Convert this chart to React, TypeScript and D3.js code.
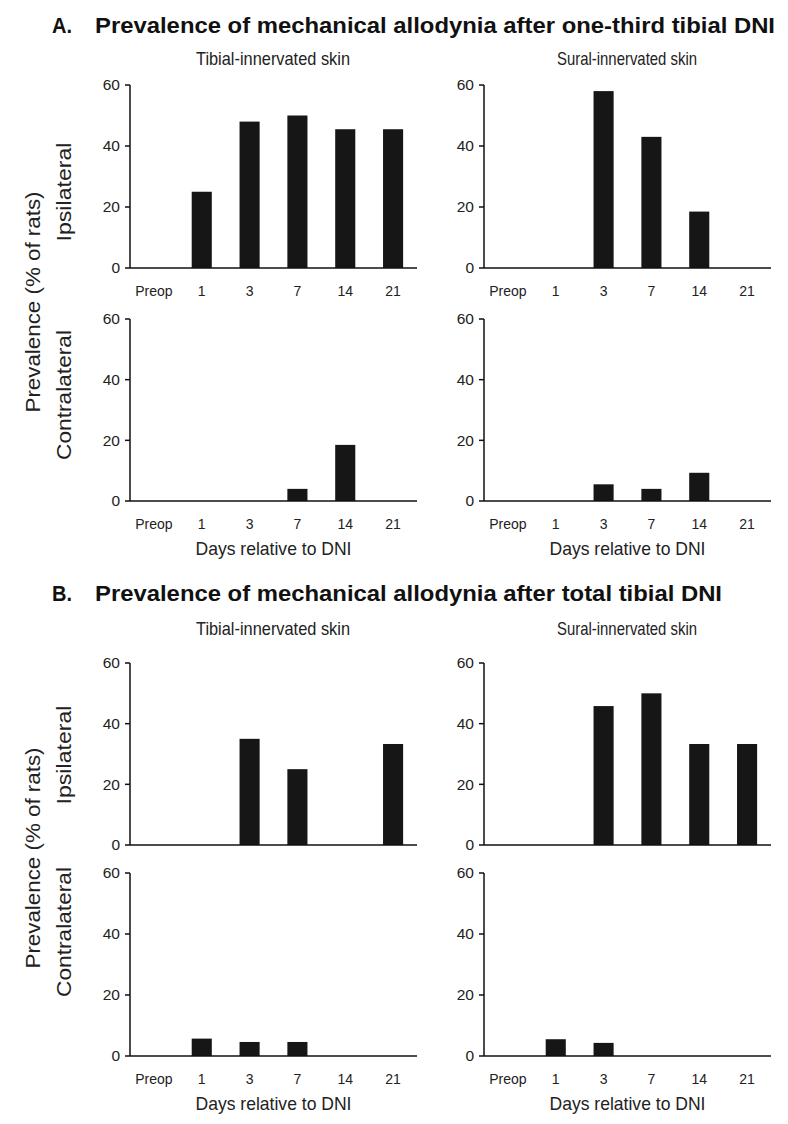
import React from "react";
import * as d3 from "d3";

const categories = ["Preop", "1", "3", "7", "14", "21"];
const yTicks = [0, 20, 40, 60];

// Panel A: one-third tibial DNI
const aIpsiTibial = [0, 25, 48, 50, 45.5, 45.5];
const aIpsiSural = [0, 0, 58, 43, 18.5, 0];
const aContraTibial = [0, 0, 0, 4, 18.5, 0];
const aContraSural = [0, 0, 5.5, 4, 9.3, 0];

// Panel B: total tibial DNI
const bIpsiTibial = [0, 0, 35, 25, 0, 33.3];
const bIpsiSural = [0, 0, 45.8, 50, 33.3, 33.3];
const bContraTibial = [0, 5.7, 4.6, 4.6, 0, 0];
const bContraSural = [0, 5.5, 4.3, 0, 0, 0];

const FONT = "'Liberation Sans', Arial, Helvetica, sans-serif";

type PanelProps = {
  values: number[];
  x0: number;
  x1: number;
  yTop: number;
  yBottom: number;
  showX: boolean;
  showXTitle: boolean;
};

function Panel({ values, x0, x1, yTop, yBottom, showX, showXTitle }: PanelProps) {
  const x = d3.scaleBand<string>().domain(categories).range([x0, x1]).paddingInner(0.58).paddingOuter(0.29);
  const y = d3.scaleLinear().domain([0, 60]).range([yBottom, yTop]);
  return (
    <g>
      {values.map((v, i) =>
        v > 0 ? (
          <rect
            key={i}
            x={x(categories[i])}
            y={y(v)}
            width={x.bandwidth()}
            height={y(0) - y(v)}
            fill="#161616"
          />
        ) : null
      )}
      <line x1={x0} x2={x0} y1={y(60)} y2={y(0)} stroke="#111" strokeWidth={1.5} />
      <line x1={x0} x2={x1} y1={y(0)} y2={y(0)} stroke="#111" strokeWidth={1.5} />
      {yTicks.map((t) => (
        <g key={t}>
          <line x1={x0 - 5} x2={x0} y1={y(t)} y2={y(t)} stroke="#111" strokeWidth={1.5} />
          <text x={x0 - 10} y={y(t)} dy="0.35em" textAnchor="end" fontSize={15.5} fontFamily={FONT} fill="#222">
            {t}
          </text>
        </g>
      ))}
      {showX &&
        categories.map((c) => (
          <text
            key={c}
            x={(x(c) as number) + x.bandwidth() / 2}
            y={y(0) + 28}
            textAnchor="middle"
            fontSize={14}
            fontFamily={FONT}
            fill="#222"
          >
            {c}
          </text>
        ))}
      {showXTitle && (
        <text
          x={(x0 + x1) / 2}
          y={y(0) + 54}
          textAnchor="middle"
          fontSize={18.5}
          fontFamily={FONT}
          fill="#222"
          textLength={156}
          lengthAdjust="spacingAndGlyphs"
        >
          Days relative to DNI
        </text>
      )}
    </g>
  );
}

function VLabel({ x, y, text, size, len }: { x: number; y: number; text: string; size: number; len: number }) {
  return (
    <text
      transform={`translate(${x},${y}) rotate(-90)`}
      textAnchor="middle"
      dy="0.35em"
      fontSize={size}
      fontFamily={FONT}
      fill="#222"
      textLength={len}
      lengthAdjust="spacingAndGlyphs"
    >
      {text}
    </text>
  );
}

export default function App() {
  const L0 = 130, L1 = 417, R0 = 484, R1 = 771;
  return (
    <svg width={788} height={1124} style={{ position: "absolute", left: 0, top: 0, background: "#fff" }}>
      <rect width={788} height={1124} fill="#fff" />
      {/* Section A */}
      <text x={52} y={33} fontSize={22} fontWeight="bold" fontFamily={FONT} fill="#111" textLength={20} lengthAdjust="spacingAndGlyphs">A.</text>
      <text x={95} y={33} fontSize={22} fontWeight="bold" fontFamily={FONT} fill="#111" textLength={680} lengthAdjust="spacingAndGlyphs">
        Prevalence of mechanical allodynia after one-third tibial DNI
      </text>
      <text x={273} y={65} textAnchor="middle" fontSize={19} fontFamily={FONT} fill="#222" textLength={154} lengthAdjust="spacingAndGlyphs">
        Tibial-innervated skin
      </text>
      <text x={627} y={65} textAnchor="middle" fontSize={19} fontFamily={FONT} fill="#222" textLength={140} lengthAdjust="spacingAndGlyphs">
        Sural-innervated skin
      </text>
      <VLabel x={33} y={302} text="Prevalence (% of rats)" size={21} len={221} />
      <VLabel x={64} y={192} text="Ipsilateral" size={20} len={99} />
      <VLabel x={64} y={395} text="Contralateral" size={20} len={130} />
      <Panel values={aIpsiTibial} x0={L0} x1={L1} yTop={85} yBottom={268} showX showXTitle={false} />
      <Panel values={aIpsiSural} x0={R0} x1={R1} yTop={85} yBottom={268} showX showXTitle={false} />
      <Panel values={aContraTibial} x0={L0} x1={L1} yTop={319} yBottom={501} showX showXTitle />
      <Panel values={aContraSural} x0={R0} x1={R1} yTop={319} yBottom={501} showX showXTitle />

      {/* Section B */}
      <text x={52} y={601} fontSize={22} fontWeight="bold" fontFamily={FONT} fill="#111" textLength={20} lengthAdjust="spacingAndGlyphs">B.</text>
      <text x={95} y={601} fontSize={22} fontWeight="bold" fontFamily={FONT} fill="#111" textLength={627} lengthAdjust="spacingAndGlyphs">
        Prevalence of mechanical allodynia after total tibial DNI
      </text>
      <text x={273} y={635} textAnchor="middle" fontSize={19} fontFamily={FONT} fill="#222" textLength={154} lengthAdjust="spacingAndGlyphs">
        Tibial-innervated skin
      </text>
      <text x={627} y={635} textAnchor="middle" fontSize={19} fontFamily={FONT} fill="#222" textLength={140} lengthAdjust="spacingAndGlyphs">
        Sural-innervated skin
      </text>
      <VLabel x={33} y={858} text="Prevalence (% of rats)" size={21} len={221} />
      <VLabel x={64} y={755} text="Ipsilateral" size={20} len={99} />
      <VLabel x={64} y={932} text="Contralateral" size={20} len={130} />
      <Panel values={bIpsiTibial} x0={L0} x1={L1} yTop={663} yBottom={845} showX={false} showXTitle={false} />
      <Panel values={bIpsiSural} x0={R0} x1={R1} yTop={663} yBottom={845} showX={false} showXTitle={false} />
      <Panel values={bContraTibial} x0={L0} x1={L1} yTop={873} yBottom={1056} showX showXTitle />
      <Panel values={bContraSural} x0={R0} x1={R1} yTop={873} yBottom={1056} showX showXTitle />
    </svg>
  );
}
